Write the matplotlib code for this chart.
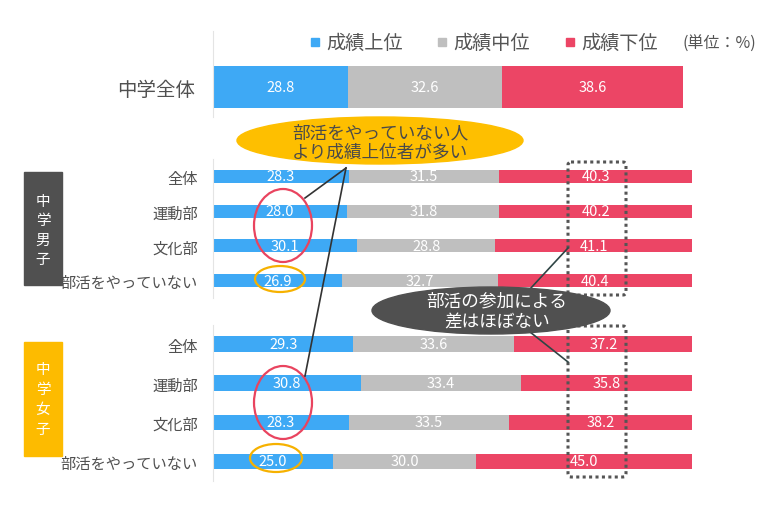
import matplotlib
matplotlib.use("Agg")
import matplotlib.pyplot as plt
from matplotlib.patches import Ellipse, Rectangle, FancyBboxPatch

plt.rcParams['font.family'] = ['Noto Sans CJK JP', 'DejaVu Sans']

# データ（単位：%）
series_names = ['成績上位', '成績中位', '成績下位']
colors = ['#3EA9F5', '#BFBFBF', '#EC4565']

top_label = ['中学全体']
top_upper = [28.8]
top_middle = [32.6]
top_lower = [38.6]

rows = ['全体', '運動部', '文化部', '部活をやっていない']
boys_upper = [28.3, 28.0, 30.1, 26.9]
boys_middle = [31.5, 31.8, 28.8, 32.7]
boys_lower = [40.3, 40.2, 41.1, 40.4]
girls_upper = [29.3, 30.8, 28.3, 25.0]
girls_middle = [33.6, 33.4, 33.5, 30.0]
girls_lower = [37.2, 35.8, 38.2, 45.0]

W, H = 780, 510
fig = plt.figure(figsize=(W / 100, H / 100), dpi=100)


def px_axes(x0, y0, x1, y1):
    # ピクセル座標（左上原点）で軸を作る
    return fig.add_axes([x0 / W, 1 - y1 / H, (x1 - x0) / W, (y1 - y0) / H])


def stacked(ax, labels, upper, middle, lower, height, fs_val, fs_lab, pad):
    ypos = list(range(len(labels)))
    left = [0] * len(labels)
    for vals, c in zip([upper, middle, lower], colors):
        ax.barh(ypos, vals, left=left, height=height, color=c,
                edgecolor='none', clip_on=False)
        for y, l, v in zip(ypos, left, vals):
            ax.text(l + v / 2, y, f'{v:.1f}', ha='center', va='center',
                    color='white', fontsize=fs_val)
        left = [a + b for a, b in zip(left, vals)]
    ax.set_xlim(0, 100)
    ax.set_yticks(ypos)
    ax.set_yticklabels(labels, fontsize=fs_lab, color='#505050')
    ax.tick_params(axis='y', length=0, pad=pad)
    ax.set_xticks([])
    for s in ['top', 'right', 'bottom']:
        ax.spines[s].set_visible(False)
    ax.spines['left'].set_color('#e4e4e4')


# 中学全体
ax_top = px_axes(213, 32, 683, 118)
stacked(ax_top, top_label, top_upper, top_middle, top_lower, 1.0, 10.5, 14, 13)
ax_top.set_ylim(-(118 - 88) / 42, (88 - 32) / 42)

# 中学男子
ax_m = px_axes(213, 160, 692, 299)
stacked(ax_m, rows, boys_upper, boys_middle, boys_lower, 0.375, 10.5, 11, 11)
ax_m.set_ylim(3.5, -0.5)

# 中学女子
ax_f = px_axes(213, 325.5, 692, 482)
stacked(ax_f, rows, girls_upper, girls_middle, girls_lower, 0.395, 10.5, 11, 11)
ax_f.set_ylim(3.5, -0.5)

# 注釈レイヤー（ピクセル座標）
ov = fig.add_axes([0, 0, 1, 1], zorder=10)
ov.set_xlim(0, W)
ov.set_ylim(H, 0)
ov.axis('off')
ov.patch.set_alpha(0)

# 凡例
for (sx, tx), name, c in zip([(311, 326), (438, 453), (566, 581)], series_names, colors):
    ov.add_patch(Rectangle((sx, 39), 8, 8, color=c))
    ov.text(tx, 43, name, ha='left', va='center', fontsize=13.8, color='#555555')
ov.text(683, 44, '(単位：%)', ha='left', va='center', fontsize=11.5, color='#555555')

# グループ見出し（縦書き）
ov.add_patch(Rectangle((24, 173), 38, 113, color='#505050'))
for ch, cy in zip('中学男子', [202, 221.5, 241, 260.5]):
    ov.text(43, cy, ch, ha='center', va='center', fontsize=10.5, color='white')
ov.add_patch(Rectangle((24, 343), 38, 114, color='#FDBB00'))
for ch, cy in zip('中学女子', [370, 390, 410, 430]):
    ov.text(43, cy, ch, ha='center', va='center', fontsize=10.5, color='white')

# 接続線
ov.plot([346, 305], [169, 199], color='#333333', lw=1.2)
ov.plot([346, 305], [169, 377], color='#333333', lw=1.2)
ov.plot([530, 568], [290, 249], color='#2f4545', lw=1.2)
ov.plot([530, 568], [333, 363], color='#2f4545', lw=1.2)

# 黄色の吹き出し
ov.add_patch(Ellipse((380, 141.5), 286, 47, color='#FEBF00', zorder=3))
ov.text(380, 133, '部活をやっていない人', ha='center', va='center',
        fontsize=12.7, color='#4a4a4a', zorder=4)
ov.text(380, 153, 'より成績上位者が多い', ha='center', va='center',
        fontsize=12.7, color='#4a4a4a', zorder=4)

# グレーの吹き出し
ov.add_patch(Ellipse((491, 311.5), 238, 47, color='#505050', zorder=3))
ov.text(497, 301, '部活の参加による', ha='center', va='center',
        fontsize=12.7, color='white', zorder=4)
ov.text(497, 323, '差はほぼない', ha='center', va='center',
        fontsize=12.7, color='white', zorder=4)

# 赤い丸
for cy in [226.5, 403.5]:
    ov.add_patch(Ellipse((283, cy), 58, 73, fill=False, ec='#E9445F', lw=1.6))
# 黄色い丸
ov.add_patch(Ellipse((280, 280), 50, 26, fill=False, ec='#F6B100', lw=1.6))
ov.add_patch(Ellipse((276, 459), 52, 28, fill=False, ec='#F6B100', lw=1.6))

# 点線の枠
for y0, y1 in [(163, 296), (327, 478)]:
    ov.add_patch(FancyBboxPatch((568, y0), 58, y1 - y0,
                                boxstyle='round,pad=0,rounding_size=3',
                                fill=False, ec='#555555', lw=2.2,
                                linestyle=(0, (1, 1.1))))

fig.savefig('out.png', dpi=100)
